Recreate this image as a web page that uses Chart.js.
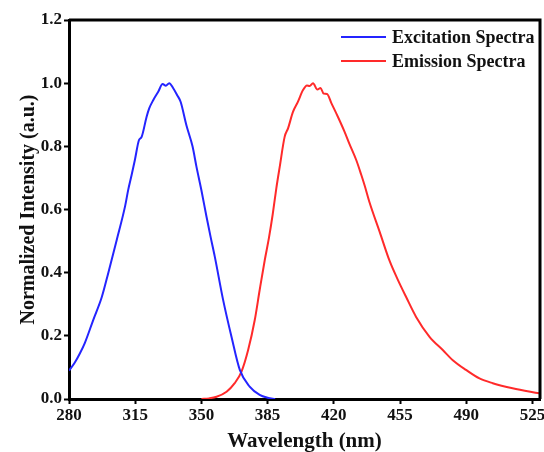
<!DOCTYPE html>
<html>
<head>
<meta charset="utf-8">
<script src="https://cdn.jsdelivr.net/npm/chart.js@4/dist/chart.umd.min.js"></script>
<style>
  html, body { margin: 0; padding: 0; background: #fff; }
  #wrap { width: 544px; height: 452px; }
</style>
</head>
<body>
<div id="wrap"><canvas id="c" width="544" height="452"></canvas></div>
<script>
// Excitation spectrum (nm, normalized intensity)
const excWavelength = [280, 283, 285.8, 288.4, 292.8, 297.3, 300.8, 305.2, 309.6, 311.3, 313.1, 314.8, 317, 318.4, 321, 322.4, 324.5, 327.1, 329.5, 331.2, 333, 335.1, 337.2, 339, 342.1, 345.3, 347.4, 350, 352.7, 354.8, 357.1, 361.5, 365.9, 370.3, 375.5, 380.8, 385, 389];
const excIntensity  = [0.09, 0.115, 0.145, 0.178, 0.25, 0.322, 0.40, 0.503, 0.609, 0.662, 0.709, 0.756, 0.82, 0.83, 0.893, 0.92, 0.946, 0.972, 0.997, 0.992, 1.0, 0.984, 0.962, 0.941, 0.866, 0.80, 0.735, 0.661, 0.577, 0.515, 0.45, 0.313, 0.197, 0.092, 0.039, 0.013, 0.004, 0.0];

// Emission spectrum (nm, normalized intensity)
const emWavelength = [350, 354, 358, 363.3, 367.6, 371.2, 374.7, 378.2, 380.8, 383.5, 385.7, 387.7, 389.6, 391.4, 394, 395.8, 398.4, 401, 403.7, 405.8, 407.2, 409, 411.3, 413, 414.6, 416.4, 418.7, 422.2, 425.7, 428.3, 431.9, 434.5, 436.3, 438.9, 444.2, 449.5, 453.8, 458.3, 463.5, 470.6, 477.6, 482.9, 489.9, 497, 504, 514.5, 528.6];
const emIntensity  = [0.0, 0.002, 0.007, 0.023, 0.05, 0.087, 0.155, 0.25, 0.345, 0.44, 0.51, 0.585, 0.667, 0.735, 0.83, 0.857, 0.909, 0.941, 0.978, 0.993, 0.991, 1.0, 0.98, 0.985, 0.967, 0.966, 0.937, 0.893, 0.846, 0.807, 0.756, 0.71, 0.676, 0.622, 0.53, 0.437, 0.378, 0.322, 0.26, 0.197, 0.155, 0.123, 0.092, 0.065, 0.05, 0.034, 0.018];

// Axis ticks
const xTicks = [280, 315, 350, 385, 420, 455, 490, 525];
const yTicks = [0, 0.2, 0.4, 0.6, 0.8, 1.0, 1.2];

const seriesNames = ['Excitation Spectra', 'Emission Spectra'];
const seriesColors = ['#2424ff', '#ff2a2a'];

const FONT = "'Liberation Serif', 'Times New Roman', serif";

const toPoints = (xs, ys) => xs.map((x, i) => ({ x: x, y: ys[i] }));

// Closes the plot box along the top and right edges
const frameBox = {
  id: 'frameBox',
  afterDatasetsDraw(chart) {
    const a = chart.chartArea;
    const ctx = chart.ctx;
    ctx.save();
    ctx.strokeStyle = '#000';
    ctx.lineWidth = 3;
    ctx.beginPath();
    ctx.moveTo(a.left, a.top);
    ctx.lineTo(a.right, a.top);
    ctx.lineTo(a.right, a.bottom);
    ctx.stroke();
    ctx.restore();
  }
};

// Legend drawn inside the upper-right corner of the plot
const innerLegend = {
  id: 'innerLegend',
  afterDraw(chart) {
    const a = chart.chartArea;
    const ctx = chart.ctx;
    ctx.save();
    ctx.font = 'bold 18px ' + FONT;
    ctx.textBaseline = 'middle';
    ctx.textAlign = 'left';
    chart.data.datasets.forEach((ds, i) => {
      const y = a.top + 17 + i * 24;
      const x0 = a.right - 199;
      ctx.strokeStyle = ds.borderColor;
      ctx.lineWidth = 2;
      ctx.beginPath();
      ctx.moveTo(x0, y);
      ctx.lineTo(x0 + 45, y);
      ctx.stroke();
      ctx.fillStyle = '#111';
      ctx.fillText(ds.label, x0 + 51, y + 1);
    });
    ctx.restore();
  }
};

new Chart(document.getElementById('c'), {
  type: 'line',
  data: {
    datasets: [
      { label: seriesNames[0], data: toPoints(excWavelength, excIntensity), borderColor: seriesColors[0], borderWidth: 2, pointRadius: 0, cubicInterpolationMode: 'monotone', fill: false },
      { label: seriesNames[1], data: toPoints(emWavelength, emIntensity), borderColor: seriesColors[1], borderWidth: 2, pointRadius: 0, cubicInterpolationMode: 'monotone', fill: false }
    ]
  },
  options: {
    responsive: false,
    animation: false,
    layout: { padding: { top: 20, right: 4, left: 0, bottom: 0 } },
    plugins: { legend: { display: false }, tooltip: { enabled: false } },
    scales: {
      x: {
        type: 'linear',
        min: 280,
        max: 529,
        afterBuildTicks(scale) { scale.ticks = xTicks.map(v => ({ value: v })); },
        afterFit(scale) { scale.height = 53; scale.paddingLeft = 0; scale.paddingRight = 0; },
        grid: { drawOnChartArea: false, drawTicks: true, tickLength: 5, tickWidth: 2, tickColor: '#000' },
        border: { display: true, color: '#000', width: 3 },
        ticks: { color: '#111', font: { family: FONT, size: 17, weight: 'bold' }, padding: 1, maxRotation: 0, callback: v => String(v) },
        title: { display: true, text: 'Wavelength (nm)', color: '#111', font: { family: FONT, size: 21, weight: 'bold', lineHeight: 1.0 }, padding: { top: 0, bottom: 0 } }
      },
      y: {
        min: 0,
        max: 1.2,
        afterBuildTicks(scale) { scale.ticks = yTicks.map(v => ({ value: v })); },
        afterFit(scale) { scale.width = 69; scale.paddingTop = 0; scale.paddingBottom = 0; },
        grid: { drawOnChartArea: false, drawTicks: true, tickLength: 5, tickWidth: 2, tickColor: '#000' },
        border: { display: true, color: '#000', width: 3 },
        ticks: { color: '#111', font: { family: FONT, size: 17, weight: 'bold' }, padding: 2, callback: v => Number(v).toFixed(1) },
        title: { display: true, text: 'Normalized Intensity (a.u.)', color: '#111', font: { family: FONT, size: 20, weight: 'bold' }, padding: { top: 17, bottom: 0 } }
      }
    }
  },
  plugins: [frameBox, innerLegend]
});
</script>
</body>
</html>
